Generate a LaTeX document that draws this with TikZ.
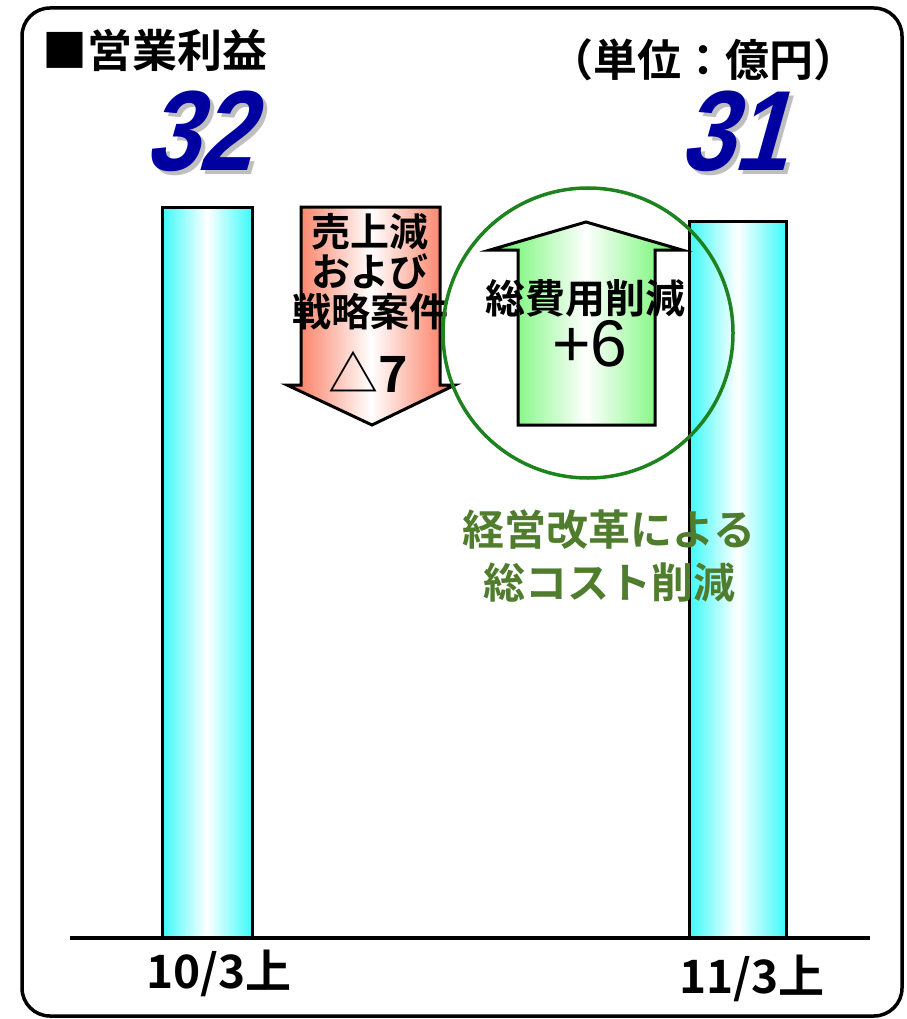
\documentclass[tikz,border=0pt]{standalone}
\usepackage{fontspec}
\newfontfamily\jp{Noto Sans CJK JP}[BoldFont={Noto Sans CJK JP Bold}]
\newfontfamily\numfont{Liberation Sans}[FakeStretch=0.85, FakeSlant=0.28]
\newfontfamily\plain{Liberation Sans}
\definecolor{numblue}{RGB}{0,0,160}
\definecolor{circgreen}{RGB}{30,130,30}
\definecolor{txtgreen}{RGB}{80,125,45}
\definecolor{salmon}{RGB}{250,110,80}
\definecolor{lgreen}{RGB}{90,245,90}
\definecolor{lcyan}{RGB}{60,250,250}
\tikzset{
  bar/.style={draw=black, line width=3pt, left color=lcyan, right color=lcyan, middle color=white},
  jptxt/.style={font=\jp\bfseries, inner sep=0pt, align=center},
  bignum/.style={font=\numfont\bfseries\fontsize{114}{114}\selectfont, inner sep=0pt},
}
\begin{document}
\begin{tikzpicture}[x=1pt,y=-1pt]
\useasboundingbox (0,0) rectangle (906,1019);
% frame
\draw[line width=3.5pt, rounded corners=28pt] (22,8) rectangle (902,1016);
% bars
\draw[bar] (162,207) rectangle (252,938);
\draw[bar] (689,221) rectangle (786,938);
% baseline
\coordinate (bl) at (70,938);
\coordinate (br) at (870,938);
\draw[line width=3.5pt] (bl) -- (br);
% title
\node[jptxt, anchor=west, font=\jp\bfseries\fontsize{45}{45}\selectfont] (title) at (42,50) {■営業利益};
\node[jptxt, font=\jp\bfseries\fontsize{44}{44}\selectfont] (unit) at (703,60) {（単位：億円）};
% numbers with shadow
\node[bignum, text=gray!50] at (202,135) {32};
\node[bignum, text=numblue] (n32) at (198,131) {32};
\node[bignum, text=gray!50] at (737,135) {31};
\node[bignum, text=numblue] (n31) at (733,131) {31};
% red down arrow
\draw[line width=3pt, left color=salmon, right color=salmon, middle color=white, line join=miter]
  (301,207) -- (440,207) -- (440,385) -- (455,385) -- (372,425) -- (287,385) -- (301,385) -- cycle;
\node[jptxt, font=\jp\bfseries\fontsize{39}{40}\selectfont] (redtxt) at (370,272) {売上減\\および\\戦略案件};
\node[inner sep=0pt, font=\jp\fontsize{50}{50}\selectfont] (delta) at (368,372) {△\textbf{7}};
% green up arrow
\draw[line width=3pt, left color=lgreen, right color=lgreen, middle color=white, line join=miter]
  (518,425) -- (518,250) -- (490,250) -- (586,222) -- (682,250) -- (655,250) -- (655,425) -- cycle;
\node[jptxt, font=\jp\bfseries\fontsize{40}{40}\selectfont] (costtxt) at (585,298) {総費用削減};
\node[inner sep=0pt, font=\plain\fontsize{66}{66}\selectfont] (plus6) at (590,344) {+6};
% circle
\node[draw=circgreen, line width=3.5pt, circle, minimum size=290pt, inner sep=0pt] (circ) at (588,333) {};
% green caption
\node[jptxt, text=txtgreen, font=\jp\bfseries\fontsize{42}{53}\selectfont] (cap) at (609,556) {経営改革による\\総コスト削減};
% axis labels
\node[jptxt, font=\jp\bfseries\fontsize{46}{46}\selectfont] (l1) at (219,973) {10/3上};
\node[jptxt, font=\jp\bfseries\fontsize{46}{46}\selectfont] (l2) at (752,978) {11/3上};
\end{tikzpicture}
\end{document}
